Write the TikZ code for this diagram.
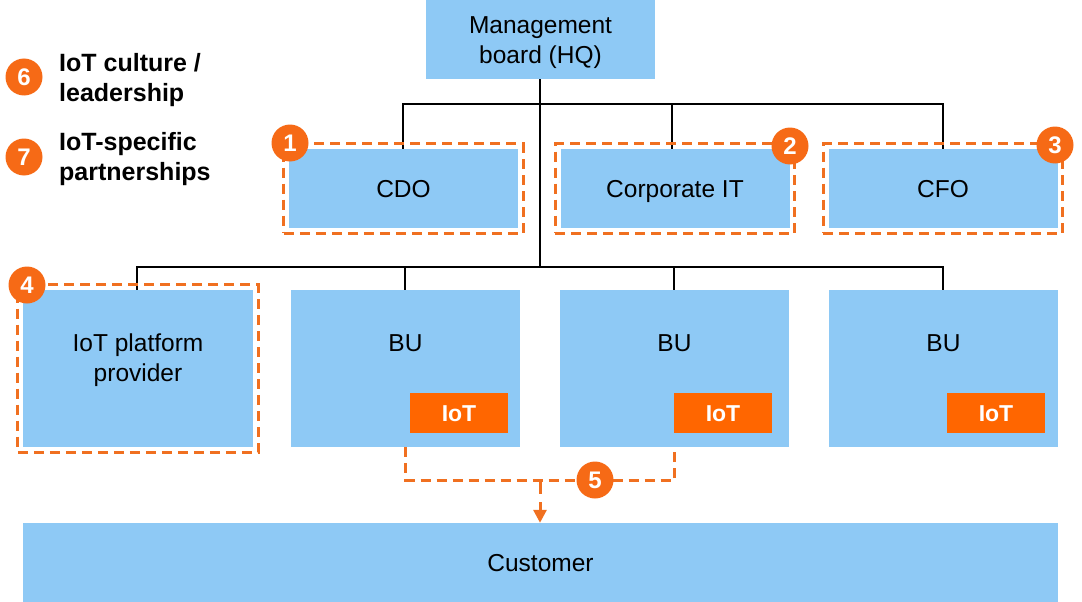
\documentclass[tikz,border=0pt]{standalone}
\usepackage{fontspec}
\setmainfont{Liberation Sans}
\usetikzlibrary{fit,arrows.meta}
\definecolor{lblue}{RGB}{142,201,245}
\definecolor{iotor}{RGB}{255,102,0}
\definecolor{badgeor}{RGB}{246,106,22}
\definecolor{dashor}{RGB}{240,112,32}
\tikzset{
 box/.style={fill=lblue, draw=none, inner sep=0pt, font=\fontsize{24.5}{30}\selectfont, text height=20pt, text depth=3pt},
 txt/.style={font=\fontsize{24.5}{30}\selectfont, align=center, inner sep=0pt},
 iotbox/.style={fill=iotor, text=white, font=\bfseries\fontsize{23}{28}\selectfont, minimum width=98pt, minimum height=40pt, inner sep=0pt, text height=19pt, text depth=3pt},
 conn/.style={line width=2pt, black},
 frame/.style={draw=dashor, line width=3pt, dash pattern=on 10pt off 6pt, inner sep=5pt},
 dpath/.style={draw=dashor, line width=3pt, dash pattern=on 10pt off 6pt},
 badge/.style={circle, fill=badgeor, text=white, font=\bfseries\fontsize{24}{24}\selectfont, minimum size=37pt, inner sep=0pt, text height=17pt, text depth=0pt},
 lbl/.style={font=\bfseries\fontsize{25}{30}\selectfont, align=left, anchor=west, inner sep=0pt},
}
\begin{document}
\begin{tikzpicture}[x=1pt,y=-1pt]
\useasboundingbox (0,0) rectangle (1082,602);
% top
\node[box, minimum width=229pt, minimum height=79pt] (mgmt) at (540.5,39.5) {};
\node[txt] (mgmttxt) at (540.5,43) {Management\\board (HQ)};
\node[box, minimum width=229pt, minimum height=79pt] (cdo) at (403.5,188.5) {CDO};
\node[box, minimum width=229pt, minimum height=79pt] (corpit) at (675,188.5) {Corporate IT};
\node[box, minimum width=229pt, minimum height=79pt] (cfo) at (943,188.5) {CFO};
% bottom row
\node[box, minimum width=230pt, minimum height=157pt] (iotp) at (138,368.5) {};
\node[txt] (iotptxt) at (138,360) {IoT platform\\provider};
\node[box, minimum width=229pt, minimum height=157pt] (bu1) at (405.5,368.5) {};
\node[box, minimum width=229pt, minimum height=157pt] (bu2) at (674.5,368.5) {};
\node[box, minimum width=229pt, minimum height=157pt] (bu3) at (943.5,368.5) {};
\node[txt, text height=20pt, text depth=3pt] (bu1t) at (405.5,343) {BU};
\node[txt, text height=20pt, text depth=3pt] (bu2t) at (674.5,343) {BU};
\node[txt, text height=20pt, text depth=3pt] (bu3t) at (943.5,343) {BU};
\node[iotbox] (iot1) at (459,413) {IoT};
\node[iotbox] (iot2) at (723,413) {IoT};
\node[iotbox] (iot3) at (996,413) {IoT};
\node[box, minimum width=1035pt, minimum height=79pt] (cust) at (540.5,562.5) {Customer};
% connectors
\coordinate (topbar) at (540,104);
\coordinate (botbar) at (540,267);
\draw[conn] (mgmt.south -| botbar) -- (botbar);
\draw[conn] ([xshift=-0.5pt]cdo.north) |- (topbar) -| (cfo.north);
\draw[conn] ([xshift=-3pt]corpit.north) -- ([xshift=-3pt]corpit.north |- topbar);
\draw[conn] ([xshift=-1pt]iotp.north) |- (botbar) -| ([xshift=-0.5pt]bu3.north);
\draw[conn] ([xshift=-0.5pt]bu1.north) -- ([xshift=-0.5pt]bu1.north |- botbar);
\draw[conn] ([xshift=-0.5pt]bu2.north) -- ([xshift=-0.5pt]bu2.north |- botbar);
% frames
\node[frame, fit=(cdo)] (f1) {};
\node[frame, fit=(corpit)] (f2) {};
\node[frame, fit=(cfo)] (f3) {};
\node[frame, fit=(iotp)] (f4) {};
% path 5
\coordinate (split) at (540,480);
\draw[dpath] (bu1.south) -- ++(0,33) -| (bu2.south);
\draw[dpath, dash pattern=on 14pt off 8pt, -{Triangle[width=13pt,length=13pt]}] (split) -- (cust.north -| split);
% badges
\node[badge] (b1) at (290,143) {1};
\node[badge] (b2) at (790,146) {2};
\node[badge] (b3) at (1055,145) {3};
\node[badge] (b4) at (27,285) {4};
\node[badge] (b5) at (595,480) {5};
\node[badge] (b6) at (24,77) {6};
\node[badge] (b7) at (24,157) {7};
\node[lbl] (l6) at (59,80) {IoT culture /\\leadership};
\node[lbl] (l7) at (59,159) {IoT-specific\\partnerships};
\end{tikzpicture}
\end{document}
